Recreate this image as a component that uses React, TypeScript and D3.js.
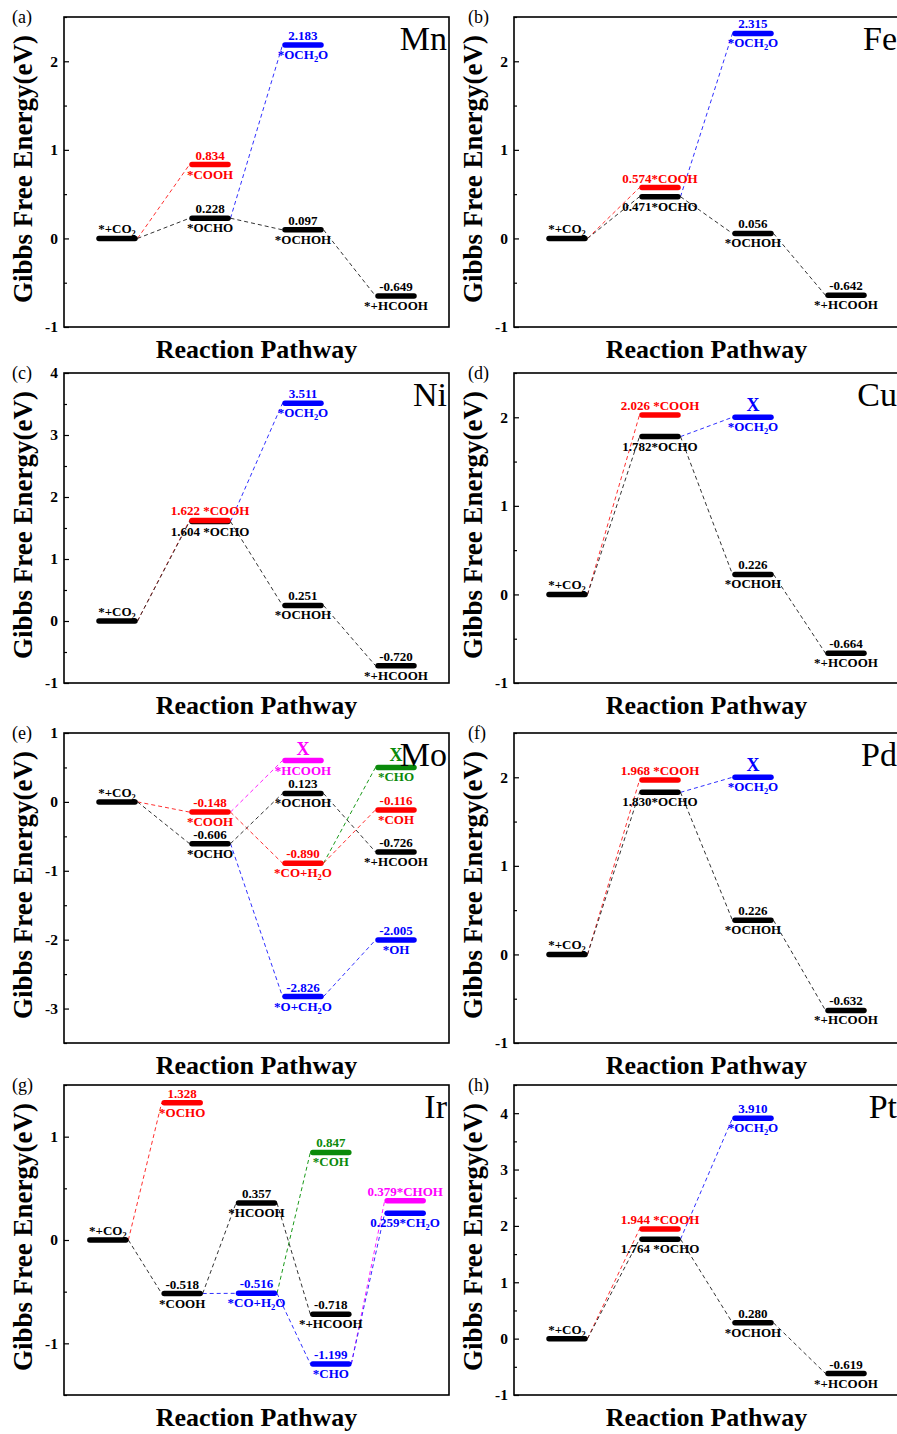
import React, { useEffect, useRef } from 'react';
import * as d3 from 'd3';

type Level = { id: string; col: number; g: number; c: string; above: string; below: string };
type Path = { c: string; ids: string[] };

const FONT = "'Times New Roman', 'Liberation Serif', serif";
const colors: Record<string, string> = { k: '#000000', r: '#ff0000', b: '#0000ff', m: '#ff00ff', g: '#0a8a0a' };
const dashColors: Record<string, string> = { k: '#333333', r: '#ff3030', b: '#3030ff', m: '#ff20ff', g: '#1a9a1a' };

// (a) Mn
const mnLevels: Level[] = [
  { id: 'co2', col: 1, g: 0, c: 'k', above: '*+CO_2', below: '' },
  { id: 'cooh', col: 2, g: 0.834, c: 'r', above: '0.834', below: '*COOH' },
  { id: 'ocho', col: 2, g: 0.228, c: 'k', above: '0.228', below: '*OCHO' },
  { id: 'och2o', col: 3, g: 2.183, c: 'b', above: '2.183', below: '*OCH_2O' },
  { id: 'ochoh', col: 3, g: 0.097, c: 'k', above: '0.097', below: '*OCHOH' },
  { id: 'hcooh', col: 4, g: -0.649, c: 'k', above: '-0.649', below: '*+HCOOH' },
];
const mnPaths: Path[] = [
  { c: 'r', ids: ['co2', 'cooh'] },
  { c: 'b', ids: ['ocho', 'och2o'] },
  { c: 'k', ids: ['co2', 'ocho', 'ochoh', 'hcooh'] },
];

// (b) Fe
const feLevels: Level[] = [
  { id: 'co2', col: 1, g: 0, c: 'k', above: '*+CO_2', below: '' },
  { id: 'ocho', col: 2, g: 0.471, c: 'k', above: '', below: '0.471*OCHO' },
  { id: 'cooh', col: 2, g: 0.574, c: 'r', above: '0.574*COOH', below: '' },
  { id: 'och2o', col: 3, g: 2.315, c: 'b', above: '2.315', below: '*OCH_2O' },
  { id: 'ochoh', col: 3, g: 0.056, c: 'k', above: '0.056', below: '*OCHOH' },
  { id: 'hcooh', col: 4, g: -0.642, c: 'k', above: '-0.642', below: '*+HCOOH' },
];
const fePaths: Path[] = mnPaths;

// (c) Ni
const niLevels: Level[] = [
  { id: 'co2', col: 1, g: 0, c: 'k', above: '*+CO_2', below: '' },
  { id: 'ocho', col: 2, g: 1.604, c: 'k', above: '', below: '1.604 *OCHO' },
  { id: 'cooh', col: 2, g: 1.622, c: 'r', above: '1.622 *COOH', below: '' },
  { id: 'och2o', col: 3, g: 3.511, c: 'b', above: '3.511', below: '*OCH_2O' },
  { id: 'ochoh', col: 3, g: 0.251, c: 'k', above: '0.251', below: '*OCHOH' },
  { id: 'hcooh', col: 4, g: -0.72, c: 'k', above: '-0.720', below: '*+HCOOH' },
];
const niPaths: Path[] = mnPaths;

// (d) Cu
const cuLevels: Level[] = [
  { id: 'co2', col: 1, g: 0, c: 'k', above: '*+CO_2', below: '' },
  { id: 'ocho', col: 2, g: 1.782, c: 'k', above: '', below: '1.782*OCHO' },
  { id: 'cooh', col: 2, g: 2.026, c: 'r', above: '2.026 *COOH', below: '' },
  { id: 'och2o', col: 3, g: 2.0, c: 'b', above: 'X', below: '*OCH_2O' },
  { id: 'ochoh', col: 3, g: 0.226, c: 'k', above: '0.226', below: '*OCHOH' },
  { id: 'hcooh', col: 4, g: -0.664, c: 'k', above: '-0.664', below: '*+HCOOH' },
];
const cuPaths: Path[] = mnPaths;

// (e) Mo
const moLevels: Level[] = [
  { id: 'co2', col: 1, g: 0, c: 'k', above: '*+CO_2', below: '' },
  { id: 'cooh', col: 2, g: -0.148, c: 'r', above: '-0.148', below: '*COOH' },
  { id: 'ocho', col: 2, g: -0.606, c: 'k', above: '-0.606', below: '*OCHO' },
  { id: 'hcooh', col: 3, g: 0.6, c: 'm', above: 'X', below: '*HCOOH' },
  { id: 'ochoh', col: 3, g: 0.123, c: 'k', above: '0.123', below: '*OCHOH' },
  { id: 'coh2o', col: 3, g: -0.89, c: 'r', above: '-0.890', below: '*CO+H_2O' },
  { id: 'och2o', col: 3, g: -2.826, c: 'b', above: '-2.826', below: '*O+CH_2O' },
  { id: 'cho', col: 4, g: 0.5, c: 'g', above: 'X', below: '*CHO' },
  { id: 'coh', col: 4, g: -0.116, c: 'r', above: '-0.116', below: '*COH' },
  { id: 'phcooh', col: 4, g: -0.726, c: 'k', above: '-0.726', below: '*+HCOOH' },
  { id: 'oh', col: 4, g: -2.005, c: 'b', above: '-2.005', below: '*OH' },
];
const moPaths: Path[] = [
  { c: 'm', ids: ['cooh', 'hcooh'] },
  { c: 'g', ids: ['coh2o', 'cho'] },
  { c: 'b', ids: ['ocho', 'och2o', 'oh'] },
  { c: 'r', ids: ['co2', 'cooh', 'coh2o', 'coh'] },
  { c: 'k', ids: ['co2', 'ocho', 'ochoh', 'phcooh'] },
];

// (f) Pd
const pdLevels: Level[] = [
  { id: 'co2', col: 1, g: 0, c: 'k', above: '*+CO_2', below: '' },
  { id: 'ocho', col: 2, g: 1.83, c: 'k', above: '', below: '1.830*OCHO' },
  { id: 'cooh', col: 2, g: 1.968, c: 'r', above: '1.968 *COOH', below: '' },
  { id: 'och2o', col: 3, g: 2.0, c: 'b', above: 'X', below: '*OCH_2O' },
  { id: 'ochoh', col: 3, g: 0.385, c: 'k', above: '0.226', below: '*OCHOH' },
  { id: 'hcooh', col: 4, g: -0.632, c: 'k', above: '-0.632', below: '*+HCOOH' },
];
const pdPaths: Path[] = mnPaths;

// (g) Ir
const irLevels: Level[] = [
  { id: 'co2', col: 1, g: 0, c: 'k', above: '*+CO_2', below: '' },
  { id: 'ocho', col: 2, g: 1.328, c: 'r', above: '1.328', below: '*OCHO' },
  { id: 'cooh', col: 2, g: -0.518, c: 'k', above: '-0.518', below: '*COOH' },
  { id: 'hcooh', col: 3, g: 0.357, c: 'k', above: '0.357', below: '*HCOOH' },
  { id: 'coh2o', col: 3, g: -0.516, c: 'b', above: '-0.516', below: '*CO+H_2O' },
  { id: 'coh', col: 4, g: 0.847, c: 'g', above: '0.847', below: '*COH' },
  { id: 'phcooh', col: 4, g: -0.718, c: 'k', above: '-0.718', below: '*+HCOOH' },
  { id: 'cho', col: 4, g: -1.199, c: 'b', above: '-1.199', below: '*CHO' },
  { id: 'choh', col: 5, g: 0.379, c: 'm', above: '0.379*CHOH', below: '' },
  { id: 'ch2o', col: 5, g: 0.259, c: 'b', above: '', below: '0.259*CH_2O' },
];
const irPaths: Path[] = [
  { c: 'r', ids: ['co2', 'ocho'] },
  { c: 'g', ids: ['coh2o', 'coh'] },
  { c: 'm', ids: ['cho', 'choh'] },
  { c: 'b', ids: ['cooh', 'coh2o', 'cho', 'ch2o'] },
  { c: 'k', ids: ['co2', 'cooh', 'hcooh', 'phcooh'] },
];

// (h) Pt
const ptLevels: Level[] = [
  { id: 'co2', col: 1, g: 0, c: 'k', above: '*+CO_2', below: '' },
  { id: 'ocho', col: 2, g: 1.764, c: 'k', above: '', below: '1.764 *OCHO' },
  { id: 'cooh', col: 2, g: 1.944, c: 'r', above: '1.944 *COOH', below: '' },
  { id: 'och2o', col: 3, g: 3.91, c: 'b', above: '3.910', below: '*OCH_2O' },
  { id: 'ochoh', col: 3, g: 0.28, c: 'k', above: '0.280', below: '*OCHOH' },
  { id: 'hcooh', col: 4, g: -0.619, c: 'k', above: '-0.619', below: '*+HCOOH' },
];
const ptPaths: Path[] = mnPaths;

const panels = [
  { tag: '(a)', metal: 'Mn', levels: mnLevels, paths: mnPaths, yDomain: [-1, 2.5], cols: 4 },
  { tag: '(b)', metal: 'Fe', levels: feLevels, paths: fePaths, yDomain: [-1, 2.5], cols: 4 },
  { tag: '(c)', metal: 'Ni', levels: niLevels, paths: niPaths, yDomain: [-1, 4], cols: 4 },
  { tag: '(d)', metal: 'Cu', levels: cuLevels, paths: cuPaths, yDomain: [-1, 2.5], cols: 4 },
  { tag: '(e)', metal: 'Mo', levels: moLevels, paths: moPaths, yDomain: [-3.5, 1], cols: 4 },
  { tag: '(f)', metal: 'Pd', levels: pdLevels, paths: pdPaths, yDomain: [-1, 2.5], cols: 4 },
  { tag: '(g)', metal: 'Ir', levels: irLevels, paths: irPaths, yDomain: [-1.5, 1.5], cols: 5 },
  { tag: '(h)', metal: 'Pt', levels: ptLevels, paths: ptPaths, yDomain: [-1, 4.5], cols: 4 },
];

const W = 385;
const H = 310;
const colX = [64, 514];
const tagDx = [-52, -46];
const rowY = [17, 373, 733, 1085];
const HALF = 20.5;

// split "CH_2O" into normal / subscript parts
const addRich = (text: any, str: string, size: number) => {
  const parts: { t: string; sub: boolean }[] = [];
  let i = 0;
  let buf = '';
  while (i < str.length) {
    if (str[i] === '_' && i + 1 < str.length) {
      if (buf) parts.push({ t: buf, sub: false });
      parts.push({ t: str[i + 1], sub: true });
      buf = '';
      i += 2;
    } else {
      buf += str[i];
      i++;
    }
  }
  if (buf) parts.push({ t: buf, sub: false });
  let shift = 0;
  parts.forEach(p => {
    const want = p.sub ? 3 : 0;
    text.append('tspan')
      .attr('dy', want - shift)
      .attr('font-size', p.sub ? size * 0.65 : size)
      .text(p.t);
    shift = want;
  });
};

const App = () => {
  const ref = useRef<SVGSVGElement>(null);

  useEffect(() => {
    const svg = d3.select(ref.current);
    svg.selectAll('*').remove();

    panels.forEach((p, pi) => {
      const x0 = colX[pi % 2];
      const y0 = rowY[Math.floor(pi / 2)];
      const g = svg.append('g').attr('transform', `translate(${x0},${y0})`);

      const y = d3.scaleLinear().domain(p.yDomain).range([H, 0]);
      const x = d3.scalePoint<number>()
        .domain(d3.range(1, p.cols + 1))
        .range([0, W])
        .padding(p.cols === 4 ? 0.57 : 0.59);

      const majors = d3.range(Math.ceil(p.yDomain[0]), Math.floor(p.yDomain[1]) + 1);
      const minors = d3.range(p.yDomain[0], p.yDomain[1] + 0.01, 0.5).filter(v => !majors.includes(v));

      const ax = g.append('g')
        .call(d3.axisLeft(y).tickValues(majors).tickSize(-5).tickPadding(6).tickFormat(d => String(d)));
      ax.select('.domain').remove();
      ax.selectAll('text')
        .attr('font-family', FONT)
        .attr('font-weight', 'bold')
        .attr('font-size', 15.5)
        .attr('fill', '#000');
      ax.selectAll('line').attr('stroke', '#000').attr('stroke-width', 1.2);

      const axm = g.append('g')
        .call(d3.axisLeft(y).tickValues(minors).tickSize(-3).tickFormat(() => ''));
      axm.select('.domain').remove();
      axm.selectAll('line').attr('stroke', '#000').attr('stroke-width', 1.2);

      g.append('rect')
        .attr('width', W).attr('height', H)
        .attr('fill', 'none').attr('stroke', '#000').attr('stroke-width', 1.6);

      const byId = new Map(p.levels.map(l => [l.id, l]));

      // dashed connectors
      p.paths.forEach(path => {
        for (let k = 0; k < path.ids.length - 1; k++) {
          const a = byId.get(path.ids[k])!;
          const b = byId.get(path.ids[k + 1])!;
          g.append('line')
            .attr('x1', (x(a.col) as number) + HALF)
            .attr('y1', y(a.g))
            .attr('x2', (x(b.col) as number) - HALF)
            .attr('y2', y(b.g))
            .attr('stroke', dashColors[path.c])
            .attr('stroke-width', 1)
            .attr('stroke-dasharray', '4,3');
        }
      });

      // energy levels
      p.levels.forEach(l => {
        const cx = x(l.col) as number;
        g.append('line')
          .attr('x1', cx - HALF + 2.5)
          .attr('x2', cx + HALF - 2.5)
          .attr('y1', y(l.g))
          .attr('y2', y(l.g))
          .attr('stroke', colors[l.c])
          .attr('stroke-width', 5.5)
          .attr('stroke-linecap', 'round');
      });

      // labels
      p.levels.forEach(l => {
        const cx = x(l.col) as number;
        if (l.above) {
          const big = l.above === 'X';
          const size = big ? 18 : 13;
          const t = g.append('text')
            .attr('x', cx)
            .attr('y', y(l.g) - (big ? 6 : 5))
            .attr('text-anchor', 'middle')
            .attr('font-family', FONT)
            .attr('font-weight', 'bold')
            .attr('fill', colors[l.c]);
          addRich(t, l.above, size);
        }
        if (l.below) {
          const t = g.append('text')
            .attr('x', cx)
            .attr('y', y(l.g) + 14)
            .attr('text-anchor', 'middle')
            .attr('font-family', FONT)
            .attr('font-weight', 'bold')
            .attr('fill', colors[l.c]);
          addRich(t, l.below, 13);
        }
      });

      g.append('text')
        .attr('x', W - 2)
        .attr('y', 33)
        .attr('text-anchor', 'end')
        .attr('font-family', FONT)
        .attr('font-size', 34)
        .text(p.metal);

      g.append('text')
        .attr('x', tagDx[pi % 2])
        .attr('y', 6)
        .attr('font-family', FONT)
        .attr('font-size', 18)
        .text(p.tag);

      g.append('text')
        .attr('transform', `translate(-32,${H / 2 - 3}) rotate(-90)`)
        .attr('text-anchor', 'middle')
        .attr('font-family', FONT)
        .attr('font-weight', 'bold')
        .attr('font-size', 27)
        .text('Gibbs Free Energy(eV)');

      g.append('text')
        .attr('x', W / 2)
        .attr('y', H + 31)
        .attr('text-anchor', 'middle')
        .attr('font-family', FONT)
        .attr('font-weight', 'bold')
        .attr('font-size', 26)
        .text('Reaction Pathway');
    });
  }, []);

  return (
    <svg
      ref={ref}
      width={897}
      height={1434}
      style={{ position: 'absolute', left: 0, top: 0, background: '#fff' }}
    />
  );
};

export default App;
